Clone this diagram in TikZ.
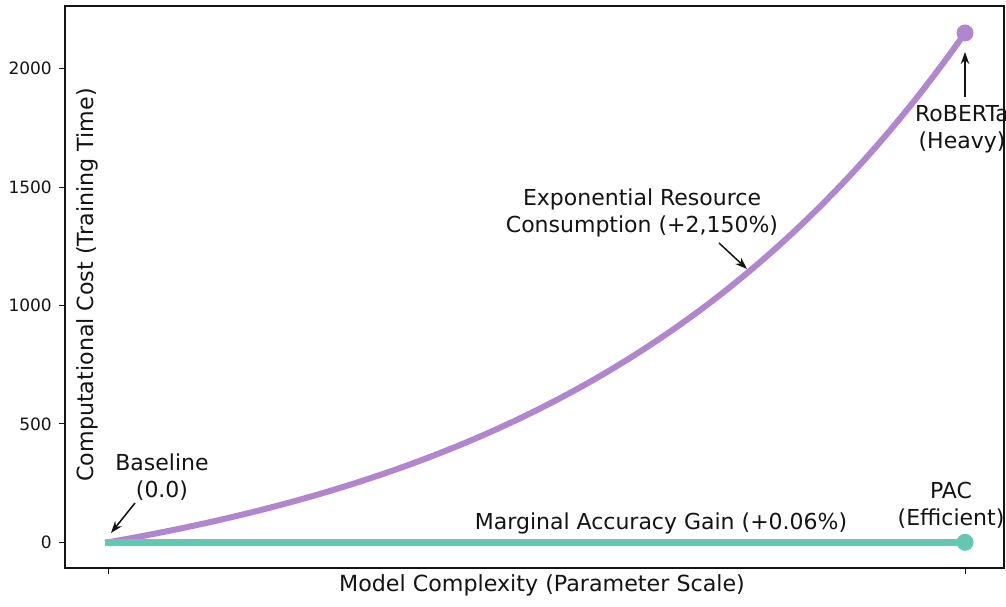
\documentclass[tikz,border=0pt]{standalone}
\usepackage{fontspec}
\setmainfont{DejaVu Sans}
\usetikzlibrary{arrows.meta}
\definecolor{curvepurple}{RGB}{176,134,206}
\definecolor{lineteal}{RGB}{99,199,178}
\definecolor{inkblack}{RGB}{20,20,20}
\begin{document}
\begin{tikzpicture}[x=1pt,y=-1pt,
  ticklbl/.style={font=\fontsize{17}{20}\selectfont, inner sep=0pt, anchor=east, text=inkblack},
  annot/.style={font=\fontsize{22}{26}\selectfont, inner sep=0pt, anchor=base, text=inkblack},
  axlbl/.style={font=\fontsize{22.2}{26}\selectfont, inner sep=0pt, anchor=base, text=inkblack},
  pointer/.style={-{Stealth[length=12pt,width=8.5pt]}, line width=1.5pt, inkblack},
  spine/.style={line width=1.1pt, inkblack},
  tickmark/.style={line width=1pt, inkblack},
  enddot/.style={circle, inner sep=0pt, minimum size=17pt}]
\useasboundingbox (0,0) rectangle (1006,607);
\clip (0,0) rectangle (1006,607);
\fill[white] (0,0) rectangle (1006,607);
% axes frame
\draw[spine] (65,6) rectangle (1004,568);
% y ticks
\foreach \v/\lab in {0/0,500/500,1000/1000,1500/1500,2000/2000}{
  \draw[tickmark] (59,{542.3-0.23685*\v}) -- (65,{542.3-0.23685*\v});
  \node[ticklbl] (ytick\lab) at (52,{542.3-0.23685*\v}) {\lab};
}
% x ticks
\draw[tickmark] (108,568) -- (108,574);
\draw[tickmark] (965,568) -- (965,574);
% axis labels
\node[axlbl] (xlabel) at (542,591) {Model Complexity (Parameter Scale)};
\node[axlbl, rotate=90] (ylabel) at (93,285) {Computational Cost (Training Time)};
% curves
\draw[curvepurple, line width=6pt, line cap=rect] plot[domain=0:1, samples=120, variable=\t]
  ({108+857*\t},{542.3-509.3*(exp(2.1*\t)-1)/(exp(2.1)-1)});
\draw[lineteal, line width=7pt, line cap=rect] (108,542.3) -- (965,542.3);
\node[enddot, fill=curvepurple] (roberta) at (965,33) {};
\node[enddot, fill=lineteal] (pac) at (965,542.3) {};
% annotations
\node[annot] (base1) at (162,470) {Baseline};
\node[annot] (base2) at (162,497) {(0.0)};
\coordinate (baseTail) at (135,503);
\coordinate (baseTip) at (111,533);
\draw[pointer] (baseTail) -- (baseTip);

\node[annot] (rob1) at (962,122) {RoBERTa};
\node[annot] (rob2) at (962,149) {(Heavy)};
\coordinate (robTail) at (965,97);
\coordinate (robTip) at (965,52);
\draw[pointer] (robTail) -- (robTip);

\node[annot] (pac1) at (951,498) {PAC};
\node[annot] (pac2) at (951,525) {(Efficient)};

\node[annot] (exp1) at (642,205) {Exponential Resource};
\node[annot] (exp2) at (642,232) {Consumption (+2,150\%)};
\coordinate (expTail) at (719,243);
\coordinate (expTip) at (747,269);
\draw[pointer] (expTail) -- (expTip);

\node[annot] (gain) at (661,529) {Marginal Accuracy Gain (+0.06\%)};
\end{tikzpicture}
\end{document}
